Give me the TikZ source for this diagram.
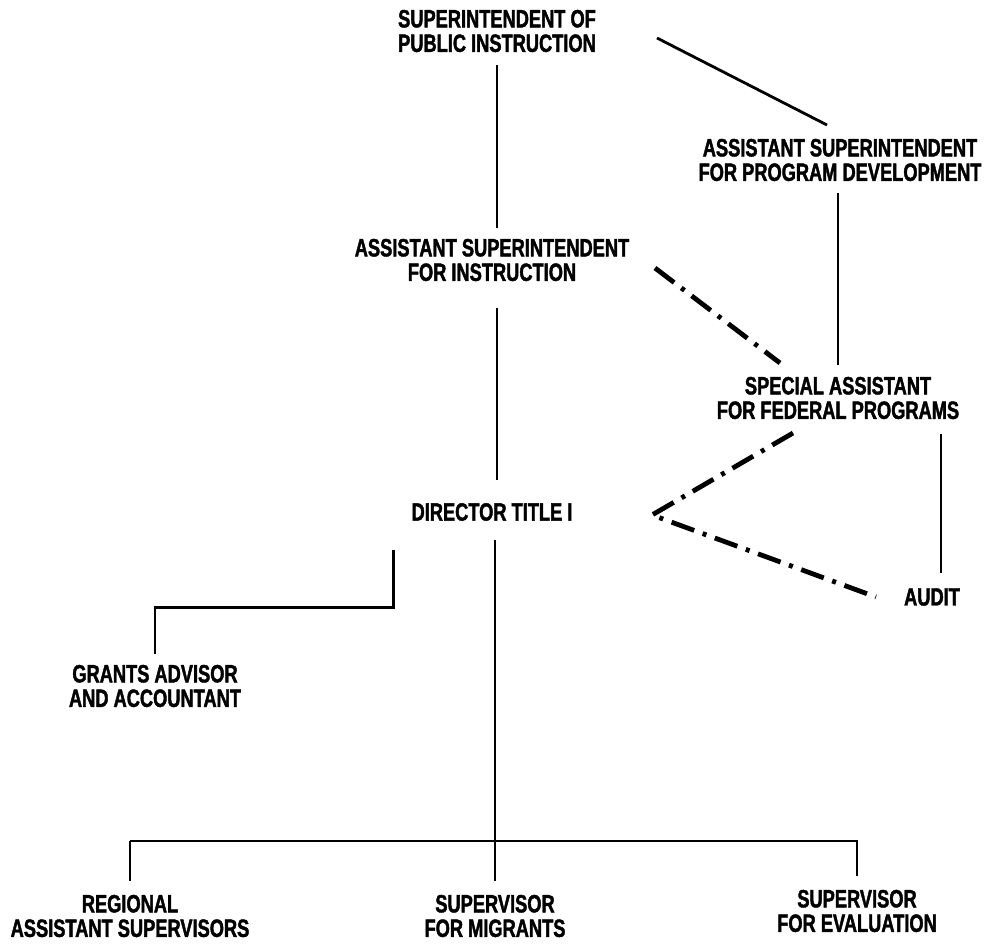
\documentclass[tikz,border=0pt]{standalone}
\usepackage{fontspec}
\newfontfamily\chartfont[FakeStretch=0.73, FakeBold=1.6]{Liberation Sans}
\usetikzlibrary{positioning}
\tikzset{dashdot line/.style={line width=4.8pt,
    dash pattern=on 24pt off 9pt on 4pt off 9pt}}

\begin{document}
\begin{tikzpicture}[x=1pt, y=-1pt, line width=2.8pt,
              every node/.style = {align=center, inner sep=0pt,
                font=\chartfont\bfseries\fontsize{25}{24.5}\selectfont}]
  \useasboundingbox (0,0) rectangle (994,947);
  % offices
  \node (sup) at (497,31) {SUPERINTENDENT OF\\PUBLIC INSTRUCTION};
  \node (asi) at (492,260) {ASSISTANT SUPERINTENDENT\\FOR INSTRUCTION};
  \node (apd) at (840,160) {ASSISTANT SUPERINTENDENT\\FOR PROGRAM DEVELOPMENT};
  \node (spa) at (838,398) {SPECIAL ASSISTANT\\FOR FEDERAL PROGRAMS};
  \node (dir) at (492,512) {DIRECTOR TITLE I};
  \node (aud) at (932,597) {AUDIT};
  \node (gra) at (155,686) {GRANTS ADVISOR\\AND ACCOUNTANT};
  \node (reg) at (130,916) {REGIONAL\\ASSISTANT SUPERVISORS};
  \node (mig) at (495,916) {SUPERVISOR\\FOR MIGRANTS};
  \node (eva) at (857,911) {SUPERVISOR\\FOR EVALUATION};
  \coordinate (bar) at (495,841);
  % line of command
  \draw[shorten <=12pt, shorten >=10pt] (sup.south) -- (sup.south |- asi.north);
  \draw[shorten <=25pt, shorten >=22pt] (asi.south -| sup.south) -- (dir.north -| sup.south);
  \draw[shorten <=18pt] (dir.south -| mig.north) -- (bar);
  \draw[shorten >=13pt] (bar) -- (mig.north);
  \draw[shorten >=13pt] (reg.north |- bar) -- (eva.north |- bar) -- (eva.north);
  \draw[shorten >=13pt] (reg.north |- bar) -- (reg.north);
  \draw ([shift={(-17,28)}]dir.south west) -- ++(0,57) -| ([yshift=10pt]gra.north);
  \draw ([shift={(160,7)}]sup.center) -- ([shift={(-13,-35)}]apd.center);
  \draw[shorten <=11pt, shorten >=11pt] (apd.south -| spa.north) -- (spa.north);
  \draw[shorten <=13pt, shorten >=14pt] ([xshift=103pt]spa.south)
    -- ([xshift=103pt]spa.south |- aud.north);
  % staff relations
  \draw[dashdot line] ([shift={(163,8)}]asi.center) -- ([shift={(-58,-35)}]spa.center);
  \draw[dashdot line] ([shift={(-45,35)}]spa.center) -- ([shift={(160,3)}]dir.center)
    -- ([shift={(-56,0)}]aud.center);
\end{tikzpicture}
\end{document}
